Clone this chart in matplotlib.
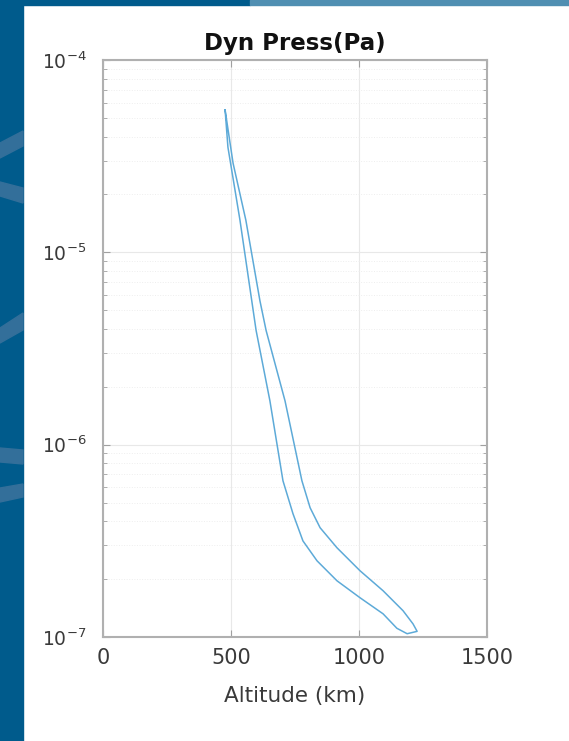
import matplotlib.pyplot as plt
from matplotlib.patches import Rectangle, Polygon
import numpy as np

# altitude (km) and dynamic pressure (Pa) along the loop
alt_km = [477, 508, 558, 613, 637, 711, 777, 809, 848, 914, 1004, 1094, 1172, 1211, 1227,
          1188, 1148, 1094, 1004, 914, 836, 781, 742, 703, 652, 598, 535, 488, 477]
dyn_pa = [5.5e-5, 2.91e-5, 1.47e-5, 5.6e-6, 3.93e-6, 1.69e-6, 6.49e-7, 4.70e-7, 3.70e-7, 2.91e-7,
          2.21e-7, 1.74e-7, 1.37e-7, 1.17e-7, 1.07e-7,
          1.04e-7, 1.11e-7, 1.32e-7, 1.60e-7, 1.96e-7, 2.49e-7, 3.16e-7, 4.38e-7, 6.49e-7, 1.69e-6,
          3.93e-6, 1.47e-5, 3.52e-5, 5.5e-5]
xticks = [0, 500, 1000, 1500]

W, H = 569, 741
fig = plt.figure(figsize=(W / 100, H / 100), dpi=100)

def px(x, y):
    return (x / W, 1 - y / H)

# slide decoration: blue bands on the left and top
dark = '#005b8c'
fig.add_artist(Rectangle(px(0, H), 23 / W, 1, transform=fig.transFigure, color=dark, zorder=0))
fig.add_artist(Rectangle(px(0, 5), 250 / W, 5 / H, transform=fig.transFigure, color=dark, zorder=0))
fig.add_artist(Rectangle(px(250, 5), 1, 5 / H, transform=fig.transFigure, color='#508fb2', zorder=0))
stripes = [[(0, 143), (23, 131), (23, 146), (0, 158)],
           [(0, 182), (23, 188), (23, 203), (0, 196)],
           [(0, 328), (23, 313), (23, 330), (0, 343)],
           [(0, 448), (23, 450), (23, 464), (0, 462)],
           [(0, 488), (23, 484), (23, 497), (0, 502)]]
for s in stripes:
    fig.add_artist(Polygon([px(*p) for p in s], closed=True, transform=fig.transFigure,
                           color='#336f9a', zorder=1))

ax = fig.add_axes([103 / W, 1 - 637 / H, 384 / W, 577 / H])
ax.plot(alt_km, dyn_pa, color='#5daad8', lw=1.1)
ax.set_yscale('log')
ax.set_xlim(0, 1500)
ax.set_ylim(1e-7, 1e-4)
ax.set_xticks(xticks)
ax.set_xticklabels([str(t) for t in xticks])

ax.grid(which='major', color='#e8e8e8', lw=0.8)
ax.grid(which='minor', axis='y', color='#eeeeee', lw=0.7, ls=':')
ax.tick_params(which='both', direction='in', top=True, right=True, color='#a0a0a0')
ax.tick_params(which='major', length=5)
ax.tick_params(which='minor', length=3)
ax.tick_params(axis='x', labelsize=15, pad=8, labelcolor='#3a3a3a')
ax.tick_params(axis='y', which='major', labelsize=13.5, pad=12, labelcolor='#3a3a3a')
for sp in ax.spines.values():
    sp.set_color('#b0b0b0')
    sp.set_linewidth(1.5)

ax.set_title('Dyn Press(Pa)', fontsize=16.5, fontweight='bold', pad=7, color='#111111')
ax.set_xlabel('Altitude (km)', fontsize=15.5, labelpad=13, color='#3a3a3a')

fig.savefig('out.png', dpi=100, facecolor='white')
